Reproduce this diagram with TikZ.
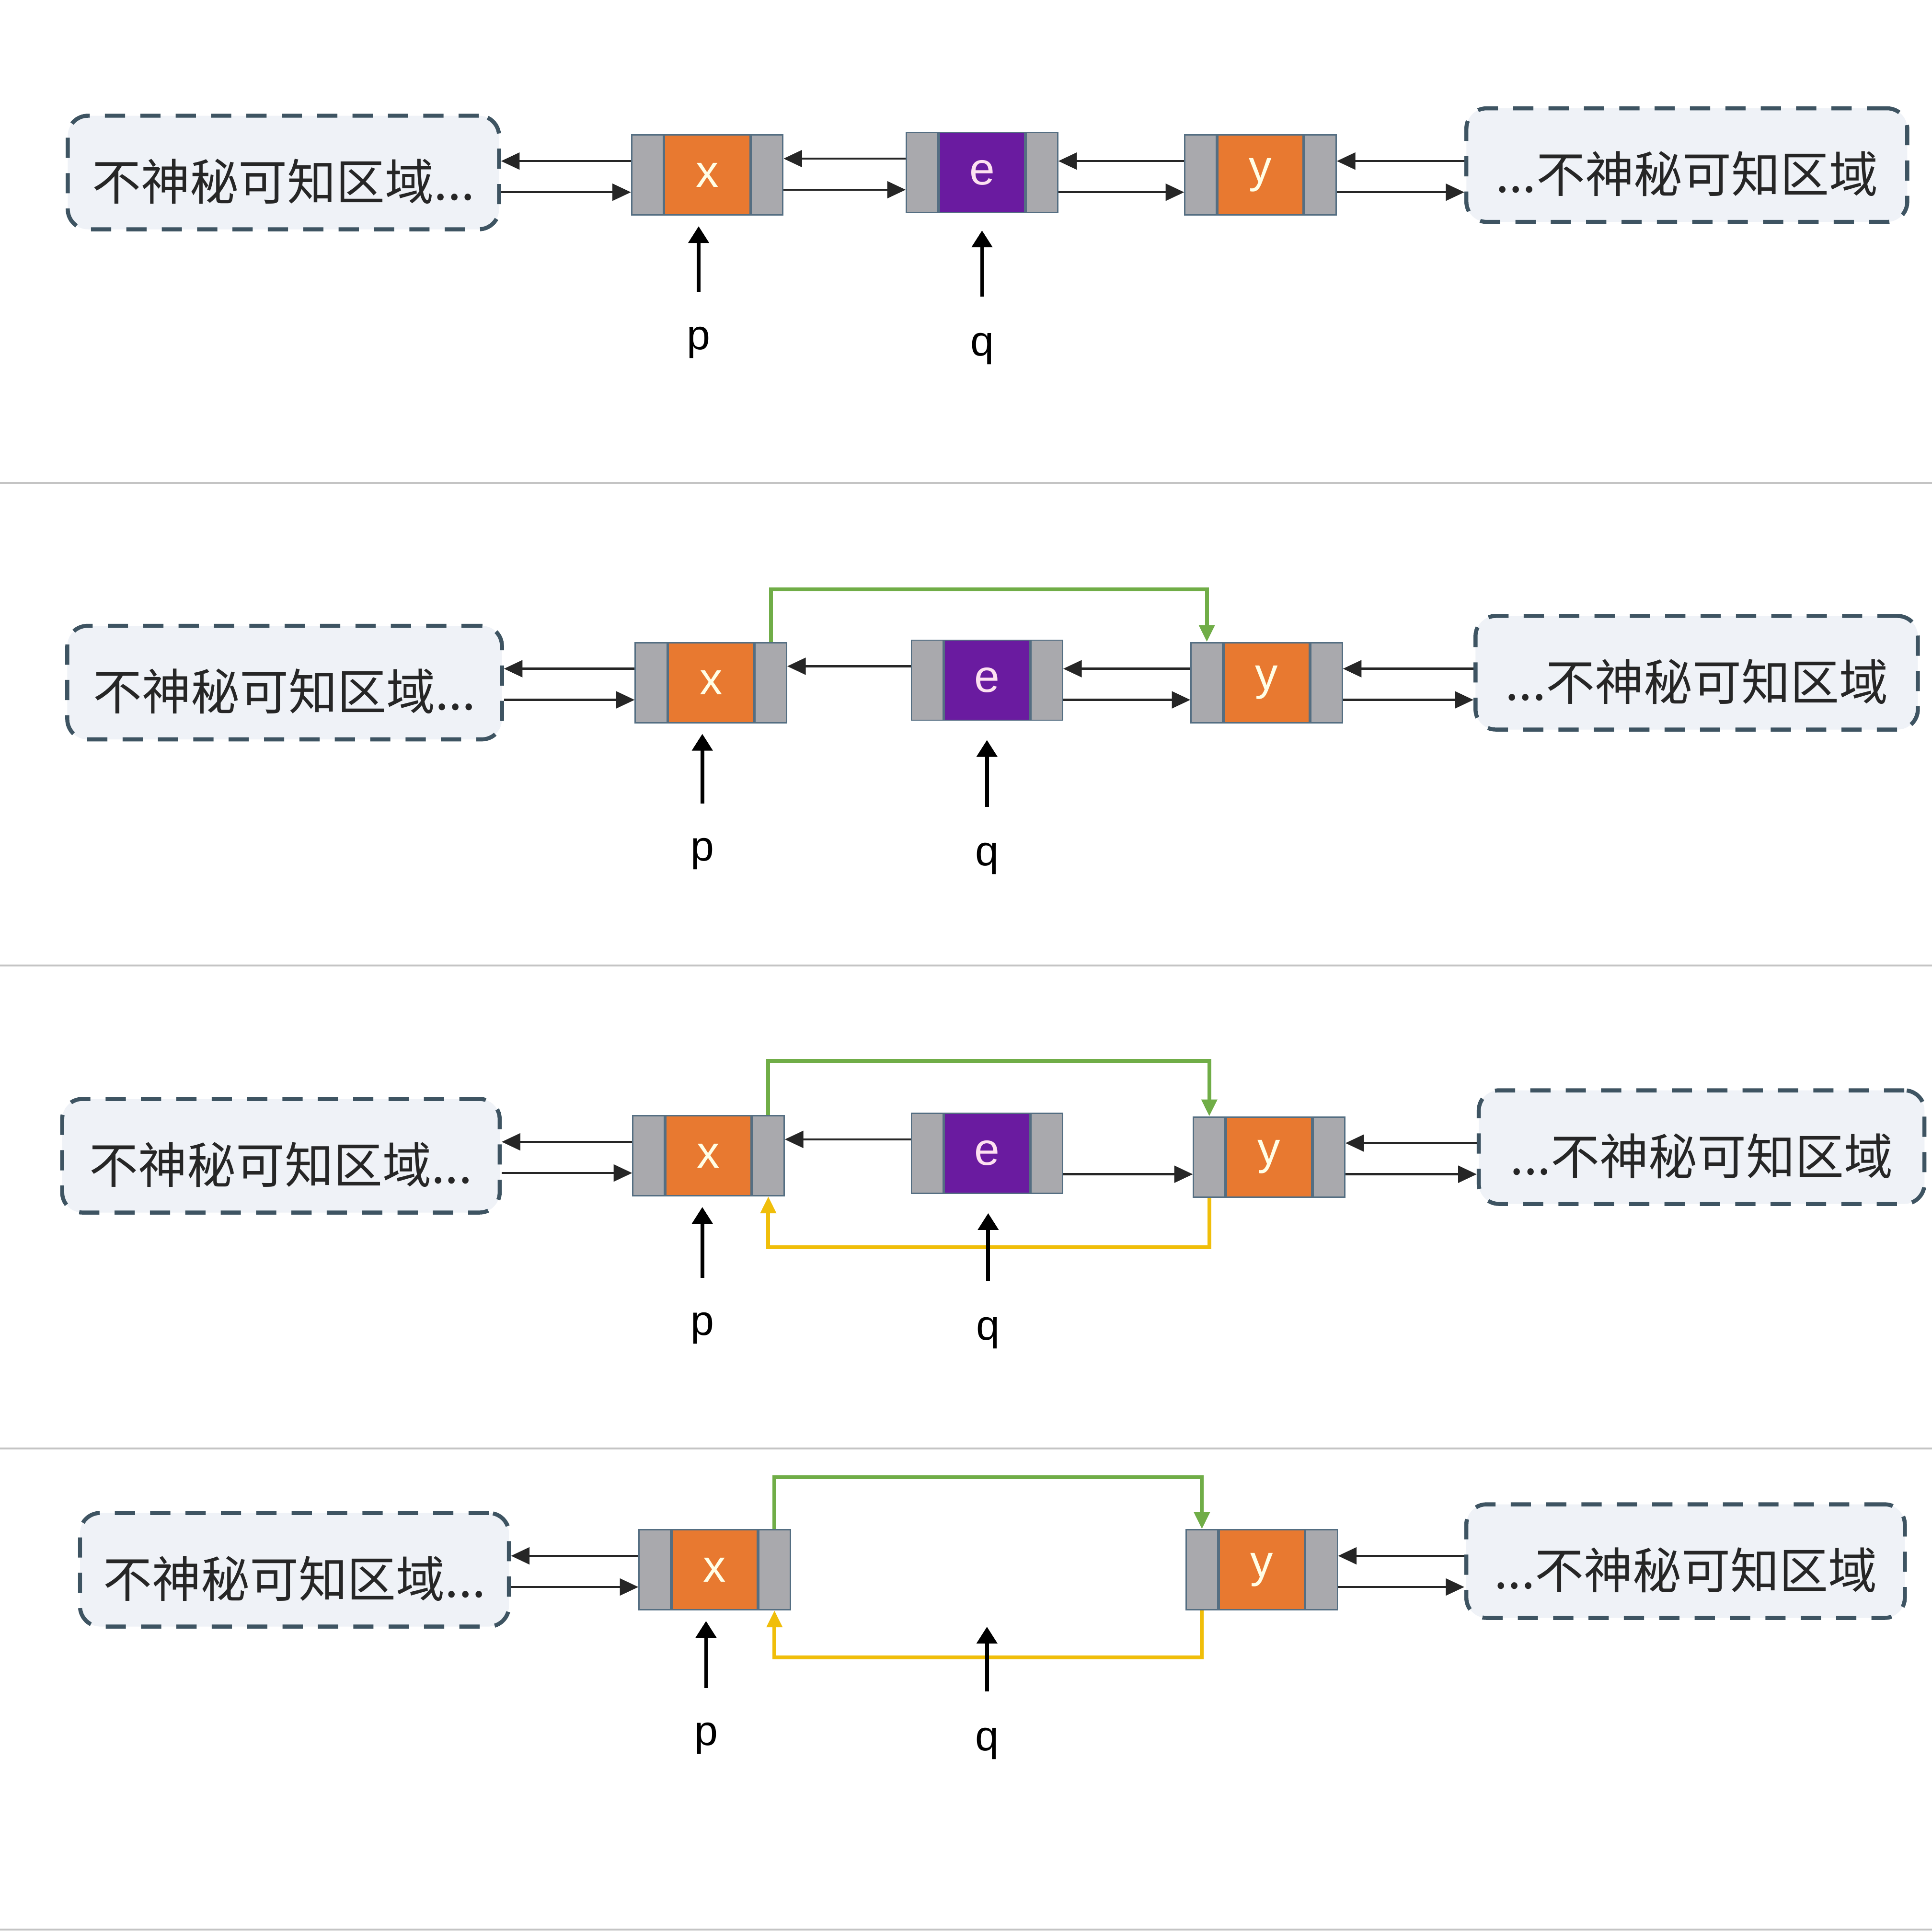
\documentclass[tikz,border=0pt]{standalone}
\usepackage{fontspec}
\setmainfont{Liberation Sans}
\newfontfamily\cjk{Noto Sans CJK SC}
\usetikzlibrary{arrows.meta,positioning}
\definecolor{cellgray}{RGB}{169,169,173}
\definecolor{celledge}{RGB}{84,110,130}
\definecolor{datorange}{RGB}{232,121,48}
\definecolor{datpurple}{RGB}{106,27,160}
\definecolor{rgnfill}{RGB}{239,242,247}
\definecolor{rgnedge}{RGB}{62,84,98}
\definecolor{nextgreen}{RGB}{112,173,71}
\definecolor{prevgold}{RGB}{240,190,10}
\definecolor{sepgray}{RGB}{196,196,196}

\begin{document}
\begin{tikzpicture}[x=0.025714cm,y=-0.025714cm,
    region/.style={draw=rgnedge,fill=rgnfill,line width=2.4pt,
                   dash pattern=on 12pt off 9pt,rounded corners=12pt,
                   minimum height=2.37cm,text=black!85,
                   text height=1.2cm,text depth=0.06cm,
                   font=\cjk\fontsize{29}{32}\selectfont},
    datcell/.style={draw=celledge,fill=datorange,line width=0.8pt,
                    minimum width=1.78cm,minimum height=1.67cm,inner sep=0pt,
                    text=white!90!yellow,font=\fontsize{27}{30}\selectfont},
    ptrcell/.style={draw=celledge,fill=cellgray,line width=0.8pt,
                    minimum width=0.66cm,minimum height=1.67cm,inner sep=0pt},
    lbl/.style={font=\fontsize{25}{28}\selectfont,inner sep=0pt},
    hi/.style={yshift=0.29cm},
    lo/.style={yshift=-0.36cm},
    link/.style={-{Triangle[length=11pt,width=10pt]},line width=1.3pt,black!85},
    pointer/.style={-{Triangle[length=10pt,width=12pt]},line width=2.2pt,
                    shorten <=0.6cm,shorten >=0.22cm},
    newnext/.style={-{Triangle[length=10pt,width=9pt]},line width=2.3pt,nextgreen},
    newprev/.style={-{Triangle[length=10pt,width=9pt]},line width=2.3pt,prevgold}]
    \useasboundingbox[fill=white] (0,0) rectangle (1568,1567);

    % panel separators
    \foreach \sy in {392,783.5,1175.5,1566}
      \draw[sepgray,line width=1pt] (0,\sy) -- (1568,\sy);

    % row A: before
    \node[region,minimum width=9cm] (lA) at (230,140) {不神秘可知区域...};
    \node[region,minimum width=9.2cm] (rA) at (1369,134) {...不神秘可知区域};
    \node[datcell] (xA) at (574,142) {x};
    \node[ptrcell,left=0pt of xA] (xAl) {};
    \node[ptrcell,right=0pt of xA] (xAr) {};
    \node[datcell,fill=datpurple,text=white!88!magenta] (eA) at (797,140) {e};
    \node[ptrcell,left=0pt of eA] (eAl) {};
    \node[ptrcell,right=0pt of eA] (eAr) {};
    \node[datcell] (yA) at (1023,142) {y};
    \node[ptrcell,left=0pt of yA] (yAl) {};
    \node[ptrcell,right=0pt of yA] (yAr) {};
    \draw[link] ([hi]xAl.west) -- ([hi]lA.east |- xAl.west);
    \draw[link] ([lo]lA.east |- xAl.west) -- ([lo]xAl.west);
    \draw[link] ([hi]eAl.west) -- ([hi]xAr.east |- eAl.west);
    \draw[link] ([lo]xAr.east |- eAl.west) -- ([lo]eAl.west);
    \draw[link] ([hi]yAl.west) -- ([hi]eAr.east |- yAl.west);
    \draw[link] ([lo]eAr.east |- yAl.west) -- ([lo]yAl.west);
    \draw[link] ([hi]rA.west |- yAr.east) -- ([hi]yAr.east);
    \draw[link] ([lo]yAr.east) -- ([lo]rA.west |- yAr.east);
    \node[lbl] (pA) at (567,278) {p};
    \node[lbl] (qA) at (797,283) {q};
    \draw[pointer,shorten <=0.72cm] (pA.north) -- (pA.north |- xA.south);
    \draw[pointer,shorten <=0.75cm,shorten >=0.36cm] (qA.north) -- (qA.north |- eA.south);

    % row B: x.next = y
    \node[region,minimum width=9.07cm] (lB) at (231,554) {不神秘可知区域...};
    \node[region,minimum width=9.23cm] (rB) at (1377,546) {...不神秘可知区域};
    \node[datcell] (xB) at (577,554) {x};
    \node[ptrcell,left=0pt of xB] (xBl) {};
    \node[ptrcell,right=0pt of xB] (xBr) {};
    \node[datcell,fill=datpurple,text=white!88!magenta] (eB) at (801,552) {e};
    \node[ptrcell,left=0pt of eB] (eBl) {};
    \node[ptrcell,right=0pt of eB] (eBr) {};
    \node[datcell] (yB) at (1028,554) {y};
    \node[ptrcell,left=0pt of yB] (yBl) {};
    \node[ptrcell,right=0pt of yB] (yBr) {};
    \draw[link] ([hi]xBl.west) -- ([hi]lB.east |- xBl.west);
    \draw[link] ([lo]lB.east |- xBl.west) -- ([lo]xBl.west);
    \draw[link] ([hi]eBl.west) -- ([hi]xBr.east |- eBl.west);
    \draw[link] ([hi]yBl.west) -- ([hi]eBr.east |- yBl.west);
    \draw[link] ([lo]eBr.east |- yBl.west) -- ([lo]yBl.west);
    \draw[link] ([hi]rB.west |- yBr.east) -- ([hi]yBr.east);
    \draw[link] ([lo]yBr.east) -- ([lo]rB.west |- yBr.east);
    \draw[newnext] (xBr.north) -- ++(0,1.1cm) -| (yBl.north);
    \node[lbl] (pB) at (570,693) {p};
    \node[lbl] (qB) at (801,697) {q};
    \draw[pointer,shorten <=0.72cm] (pB.north) -- (pB.north |- xB.south);
    \draw[pointer,shorten <=0.75cm,shorten >=0.4cm] (qB.north) -- (qB.north |- eB.south);

    % row C: y.prev = x
    \node[region,minimum width=9.13cm] (lC) at (228,938) {不神秘可知区域...};
    \node[region,minimum width=9.3cm] (rC) at (1381,931) {...不神秘可知区域};
    \node[datcell] (xC) at (575,938) {x};
    \node[ptrcell,left=0pt of xC] (xCl) {};
    \node[ptrcell,right=0pt of xC] (xCr) {};
    \node[datcell,fill=datpurple,text=white!88!magenta] (eC) at (801,936) {e};
    \node[ptrcell,left=0pt of eC] (eCl) {};
    \node[ptrcell,right=0pt of eC] (eCr) {};
    \node[datcell] (yC) at (1030,939) {y};
    \node[ptrcell,left=0pt of yC] (yCl) {};
    \node[ptrcell,right=0pt of yC] (yCr) {};
    \draw[link] ([hi]xCl.west) -- ([hi]lC.east |- xCl.west);
    \draw[link] ([lo]lC.east |- xCl.west) -- ([lo]xCl.west);
    \draw[link] ([hi]eCl.west) -- ([hi]xCr.east |- eCl.west);
    \draw[link] ([lo]eCr.east |- yCl.west) -- ([lo]yCl.west);
    \draw[link] ([hi]rC.west |- yCr.east) -- ([hi]yCr.east);
    \draw[link] ([lo]yCr.east) -- ([lo]rC.west |- yCr.east);
    \draw[newnext] (xCr.north) -- ++(0,1.13cm) -| (yCl.north);
    \draw[newprev] (yCl.south) -- ++(0,-1.03cm) -| (xCr.south);
    \node[lbl] (pC) at (570,1078) {p};
    \node[lbl] (qC) at (802,1082) {q};
    \draw[pointer,shorten <=0.72cm] (pC.north) -- (pC.north |- xC.south);
    \draw[pointer,shorten <=0.75cm,shorten >=0.4cm] (qC.north) -- (qC.north |- eC.south);

    % row D: e removed
    \node[region,minimum width=8.95cm] (lD) at (239,1274) {不神秘可知区域...};
    \node[region,minimum width=9.15cm] (rD) at (1368,1267) {...不神秘可知区域};
    \node[datcell] (xD) at (580,1274) {x};
    \node[ptrcell,left=0pt of xD] (xDl) {};
    \node[ptrcell,right=0pt of xD] (xDr) {};
    \node[datcell] (yD) at (1024,1274) {y};
    \node[ptrcell,left=0pt of yD] (yDl) {};
    \node[ptrcell,right=0pt of yD] (yDr) {};
    \draw[link] ([hi]xDl.west) -- ([hi]lD.east |- xDl.west);
    \draw[link] ([lo]lD.east |- xDl.west) -- ([lo]xDl.west);
    \draw[link] ([hi]rD.west |- yDr.east) -- ([hi]yDr.east);
    \draw[link] ([lo]yDr.east) -- ([lo]rD.west |- yDr.east);
    \draw[newnext] (xDr.north) -- ++(0,1.08cm) -| (yDl.north);
    \draw[newprev] (yDl.south) -- ++(0,-0.98cm) -| (xDr.south);
    \node[lbl] (pD) at (573,1411) {p};
    \node[lbl] (qD) at (801,1415) {q};
    \draw[pointer,shorten <=0.72cm] (pD.north) -- (pD.north |- xD.south);
    \draw[pointer,shorten <=0.75cm,shorten >=0.34cm] (qD.north) -- (qD.north |- xD.south);
\end{tikzpicture}
\end{document}
